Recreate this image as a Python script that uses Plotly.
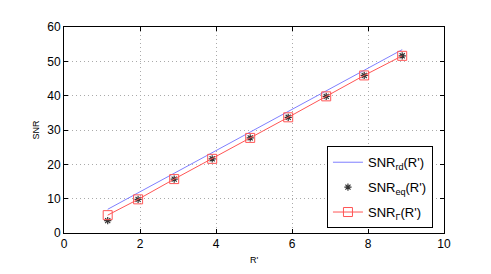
import plotly.graph_objects as go

x_vals = [1.15, 1.95, 2.9, 3.9, 4.9, 5.9, 6.9, 7.9, 8.9]
snr_rd = [6.9, 11.7, 17.4, 23.4, 29.4, 35.4, 41.4, 47.4, 53.4]
snr_eq = [3.6, 9.8, 15.7, 21.6, 27.7, 33.7, 39.8, 45.9, 51.6]
snr_gamma = [5.2, 9.8, 15.7, 21.6, 27.7, 33.7, 39.8, 45.9, 51.6]

fig = go.Figure()
fig.add_trace(go.Scatter(x=x_vals, y=snr_rd, mode="lines",
                         line=dict(color="#7f7fff", width=1), legendgroup="a",
                         name="SNR<sub>rd</sub>(R')"))
fig.add_trace(go.Scatter(x=x_vals, y=snr_eq, mode="markers", legendgroup="b",
                         marker=dict(symbol="asterisk-open", color="#333333", size=6,
                                     line=dict(color="#333333", width=1.2)),
                         name="SNR<sub>eq</sub>(R')"))
fig.add_trace(go.Scatter(x=x_vals, y=snr_gamma, mode="lines+markers", legendgroup="c",
                         line=dict(color="#ff5555", width=1),
                         marker=dict(symbol="square-open", color="#ff5555", size=9,
                                     line=dict(color="#ff5555", width=1)),
                         name="SNR<sub>Γ</sub>(R')"))

axis_common = dict(showline=True, linecolor="black", linewidth=1, mirror="allticks",
                   ticks="inside", ticklen=4, tickcolor="black",
                   showgrid=True, gridcolor="#aaaaaa", griddash="1px,3px", gridwidth=1,
                   zeroline=False, tickfont=dict(size=12, color="black"))

fig.update_layout(
    width=491, height=274,
    margin=dict(l=56, r=55, t=16, b=49),
    plot_bgcolor="white", paper_bgcolor="white",
    font=dict(family="Liberation Sans, Arial, sans-serif", color="black"),
    xaxis=dict(range=[0, 10], dtick=2, title=dict(text="R'", font=dict(size=9), standoff=6), **axis_common),
    yaxis=dict(range=[0, 60], dtick=10, title=dict(text="SNR", font=dict(size=9), standoff=6), **axis_common),
    legend=dict(x=0.692, y=0.421, xanchor="left", yanchor="top",
                bordercolor="black", borderwidth=1, bgcolor="white",
                font=dict(size=13), tracegroupgap=5, itemwidth=30),
    showlegend=True,
)

fig.write_html("out.html")
